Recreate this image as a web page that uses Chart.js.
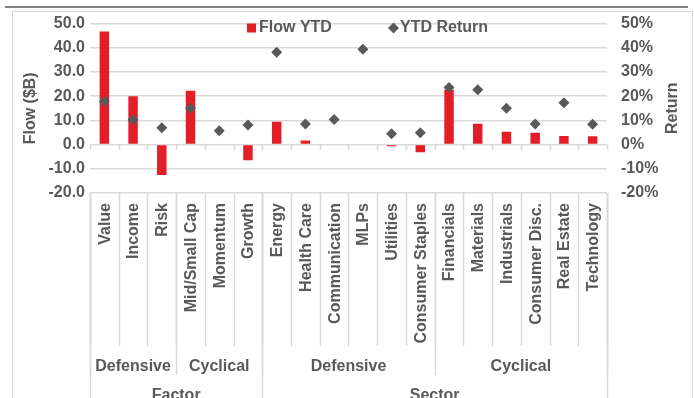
<!DOCTYPE html>
<html>
<head>
<meta charset="utf-8">
<script src="https://cdn.jsdelivr.net/npm/chart.js@4/dist/chart.umd.min.js"></script>
<style>
  html, body { margin: 0; padding: 0; background: #ffffff; }
  #wrap { width: 694px; height: 398px; position: relative; }
</style>
</head>
<body>
<div id="wrap"><canvas id="c" width="694" height="398"></canvas></div>
<script>
// Categories, grouped by style (Defensive / Cyclical) and by kind (Factor / Sector)
const categories = ['Value', 'Income', 'Risk', 'Mid/Small Cap', 'Momentum', 'Growth',
  'Energy', 'Health Care', 'Communication', 'MLPs', 'Utilities', 'Consumer Staples',
  'Financials', 'Materials', 'Industrials', 'Consumer Disc.', 'Real Estate', 'Technology'];
const groupLabels = ['Defensive', 'Cyclical', 'Defensive', 'Cyclical'];
const groupSizes = [3, 3, 6, 6];
const sectionLabels = ['Factor', 'Sector'];
const sectionSizes = [6, 12];

// Flow year-to-date ($B) and YTD return (%)
const flowYTD = [46.7, 20.0, -12.6, 22.3, 0, -6.5, 9.4, 1.7, 0, 0, -0.7, -3.2, 22.7, 8.6, 5.3, 4.9, 3.6, 3.4];
const ytdReturn = [17.8, 10.3, 7.0, 15.0, 5.7, 8.1, 38.2, 8.5, 10.4, 39.4, 4.5, 4.9, 23.6, 22.7, 15.0, 8.5, 17.3, 8.4];

const titleText = 'Chart 2: Factor and Sector ETF Flows and YTD Returns';

const TEXT = '#595959';
const LINE = '#d9d9d9';
const RED = '#e31e26';
const FONT = 'bold 16px "Liberation Sans", Arial, sans-serif';

// Frame, header rule, category labels, group labels, legend and axis titles
const decorations = {
  id: 'decorations',
  beforeDraw(chart) {
    const ctx = chart.ctx;
    ctx.save();
    ctx.fillStyle = '#ffffff';
    ctx.fillRect(0, 0, chart.width, chart.height);
    // header title (it sits above the page, only its foot shows) and rule
    ctx.fillStyle = '#f3b3b5';
    ctx.font = 'bold 19px "Liberation Sans", Arial, sans-serif';
    ctx.textBaseline = 'alphabetic';
    ctx.textAlign = 'left';
    ctx.fillText(titleText, 20, 0.2, 670);
    ctx.strokeStyle = '#808080';
    ctx.lineWidth = 2;
    ctx.beginPath();
    ctx.moveTo(5, 7);
    ctx.lineTo(688, 7);
    ctx.stroke();
    // chart frame
    ctx.strokeStyle = LINE;
    ctx.lineWidth = 1;
    ctx.strokeRect(12.5, 11.5, 680, 400);
    ctx.restore();
  },
  afterDraw(chart) {
    const ctx = chart.ctx;
    const xs = chart.scales.x;
    const ys = chart.scales.y;
    const area = chart.chartArea;
    const n = categories.length;
    const step = (xs.getPixelForValue(1) - xs.getPixelForValue(0));
    const edge = i => xs.getPixelForValue(0) - step / 2 + i * step;
    const zeroY = ys.getPixelForValue(0);
    const bottom = area.bottom;

    ctx.save();
    ctx.strokeStyle = LINE;
    ctx.lineWidth = 1.5;
    // tick marks below the zero line
    for (let i = 0; i <= n; i++) {
      const x = Math.round(edge(i)) + 0.5;
      ctx.beginPath();
      ctx.moveTo(x, zeroY);
      ctx.lineTo(x, zeroY + 5);
      ctx.stroke();
    }
    // category separators
    for (let i = 0; i <= n; i++) {
      const x = Math.round(edge(i)) + 0.5;
      ctx.beginPath();
      ctx.moveTo(x, bottom);
      ctx.lineTo(x, bottom + 153);
      ctx.stroke();
    }
    // group separators
    let acc = 0;
    const groupEdges = [0];
    groupSizes.forEach(s => { acc += s; groupEdges.push(acc); });
    groupEdges.forEach(i => {
      const x = Math.round(edge(i)) + 0.5;
      ctx.beginPath();
      ctx.moveTo(x, bottom);
      ctx.lineTo(x, bottom + 182);
      ctx.stroke();
    });
    // section separators
    acc = 0;
    const sectionEdges = [0];
    sectionSizes.forEach(s => { acc += s; sectionEdges.push(acc); });
    sectionEdges.forEach(i => {
      const x = Math.round(edge(i)) + 0.5;
      ctx.beginPath();
      ctx.moveTo(x, bottom);
      ctx.lineTo(x, chart.height);
      ctx.stroke();
    });

    ctx.fillStyle = TEXT;
    ctx.font = FONT;
    // category labels, rotated
    categories.forEach((c, i) => {
      ctx.save();
      ctx.translate(xs.getPixelForValue(i), bottom + 10);
      ctx.rotate(-Math.PI / 2);
      ctx.textAlign = 'right';
      ctx.textBaseline = 'middle';
      ctx.fillText(c, 0, 1);
      ctx.restore();
    });
    // group labels
    ctx.textAlign = 'center';
    ctx.textBaseline = 'middle';
    for (let g = 0; g < groupLabels.length; g++) {
      const cx = (edge(groupEdges[g]) + edge(groupEdges[g + 1])) / 2;
      ctx.fillText(groupLabels[g], cx, bottom + 174);
    }
    for (let s = 0; s < sectionLabels.length; s++) {
      const cx = (edge(sectionEdges[s]) + edge(sectionEdges[s + 1])) / 2;
      ctx.fillText(sectionLabels[s], cx, bottom + 203);
    }

    // axis titles
    const midY = (area.top + area.bottom) / 2;
    ctx.save();
    ctx.translate(31, midY);
    ctx.rotate(-Math.PI / 2);
    ctx.fillText('Flow ($B)', 0, 0);
    ctx.restore();
    ctx.save();
    ctx.translate(673, midY);
    ctx.rotate(-Math.PI / 2);
    ctx.fillText('Return', 0, 0);
    ctx.restore();

    // legend
    const ds = chart.data.datasets;
    const ly = 28;
    ctx.textAlign = 'left';
    ctx.textBaseline = 'middle';
    ctx.fillStyle = ds[0].backgroundColor;
    ctx.fillRect(247, ly - 4.5, 9, 9);
    ctx.fillStyle = TEXT;
    ctx.fillText(ds[0].label, 259, ly);
    ctx.fillStyle = ds[1].backgroundColor;
    ctx.beginPath();
    ctx.moveTo(393.5, ly - 5.5);
    ctx.lineTo(399, ly);
    ctx.lineTo(393.5, ly + 5.5);
    ctx.lineTo(388, ly);
    ctx.closePath();
    ctx.fill();
    ctx.fillStyle = TEXT;
    ctx.fillText(ds[1].label, 400, ly);
    ctx.restore();
  }
};

new Chart(document.getElementById('c'), {
  type: 'bar',
  data: {
    labels: categories,
    datasets: [
      {
        type: 'bar',
        label: 'Flow YTD',
        data: flowYTD,
        backgroundColor: RED,
        borderWidth: 0,
        yAxisID: 'y',
        categoryPercentage: 1,
        barPercentage: 0.33,
        order: 1
      },
      {
        type: 'line',
        label: 'YTD Return',
        data: ytdReturn,
        showLine: false,
        pointStyle: 'rectRot',
        pointRadius: 5.5,
        pointBorderWidth: 0,
        backgroundColor: TEXT,
        borderColor: TEXT,
        yAxisID: 'y1',
        order: 0
      }
    ]
  },
  options: {
    responsive: false,
    animation: false,
    devicePixelRatio: 1,
    layout: { padding: { left: 12, right: 2, top: 20, bottom: 205 } },
    plugins: {
      legend: { display: false },
      tooltip: { enabled: false }
    },
    scales: {
      x: {
        type: 'category',
        display: false,
        offset: true
      },
      y: {
        position: 'left',
        min: -20,
        max: 50,
        ticks: {
          stepSize: 10,
          color: TEXT,
          font: { family: '"Liberation Sans", Arial, sans-serif', size: 16, weight: 'bold' },
          padding: 5,
          callback: v => v.toFixed(1)
        },
        grid: { color: LINE, lineWidth: 1.5, drawTicks: false },
        border: { display: false },
        afterFit: s => { s.width = 78; }
      },
      y1: {
        position: 'right',
        min: -20,
        max: 50,
        ticks: {
          stepSize: 10,
          color: TEXT,
          font: { family: '"Liberation Sans", Arial, sans-serif', size: 16, weight: 'bold' },
          padding: 14,
          callback: v => v + '%'
        },
        grid: { display: false, drawTicks: false },
        border: { display: false },
        afterFit: s => { s.width = 85; }
      }
    }
  },
  plugins: [decorations]
});
</script>
</body>
</html>
